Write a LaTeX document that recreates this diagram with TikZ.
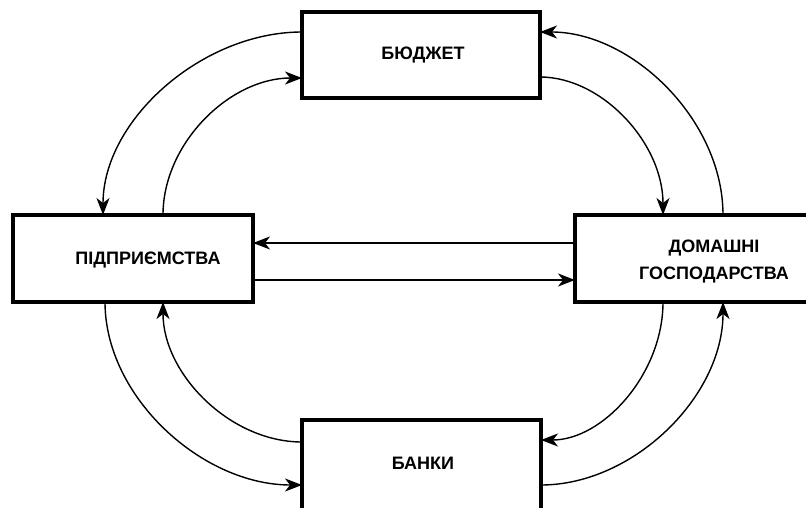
\documentclass[tikz,border=0pt]{standalone}
\usepackage{fontspec}
\setmainfont{Liberation Sans}
\usetikzlibrary{arrows.meta,calc}
\begin{document}
\begin{tikzpicture}[x=1pt,y=-1pt,
  box/.style={draw=black,line width=4pt,fill=white,inner sep=0pt,outer sep=0pt},
  lbl/.style={font=\fontsize{18}{27}\selectfont\bfseries,align=center,inner sep=0pt},
  flow/.style={line width=1.4pt,-{Stealth[length=17pt,width=13pt,inset=5pt]}}]
\useasboundingbox (0,0) rectangle (806,508);
\clip (0,0) rectangle (806,508);
\node[box,minimum width=238pt,minimum height=86pt] (bud) at (421,55) {};
\node[box,minimum width=240pt,minimum height=87pt] (pid) at (133,258.5) {};
\node[box,minimum width=240pt,minimum height=87pt] (dom) at (695,258.5) {};
\node[box,minimum width=239pt,minimum height=90pt] (ban) at (421.5,465) {};
\node[lbl] (budt) at (423,55) {БЮДЖЕТ};
\node[lbl] (pidt) at (148,260) {ПІДПРИЄМСТВА};
\node[lbl] (domt) at (714,262) {ДОМАШНІ\\ГОСПОДАРСТВА};
\node[lbl] (bant) at (423,463) {БАНКИ};
% attachment points
\coordinate (bw1) at ($(bud.west)+(0,-23)$);
\coordinate (bw2) at ($(bud.west)+(0,23)$);
\coordinate (be1) at ($(bud.east)+(0,-23)$);
\coordinate (be2) at ($(bud.east)+(0,22)$);
\coordinate (pn1) at ($(pid.north)+(-30,0)$);
\coordinate (pn2) at ($(pid.north)+(30,0)$);
\coordinate (ps1) at ($(pid.south)+(-28,0)$);
\coordinate (ps2) at ($(pid.south)+(30,0)$);
\coordinate (pe1) at ($(pid.east)+(0,-15.5)$);
\coordinate (pe2) at ($(pid.east)+(0,21.5)$);
\coordinate (dw1) at ($(dom.west)+(0,-15.5)$);
\coordinate (dw2) at ($(dom.west)+(0,21.5)$);
\coordinate (dn1) at ($(dom.north)+(-32,0)$);
\coordinate (dn2) at ($(dom.north)+(28,0)$);
\coordinate (ds1) at ($(dom.south)+(-32,0)$);
\coordinate (ds2) at ($(dom.south)+(28,0)$);
\coordinate (aw1) at ($(ban.west)+(0,-23)$);
\coordinate (aw2) at ($(ban.west)+(0,20)$);
\coordinate (ae1) at ($(ban.east)+(0,-25)$);
\coordinate (ae2) at ($(ban.east)+(0,20)$);
% budget <-> enterprises
\draw[flow] (bw1) .. controls +(-100,0) and +(0,-95) .. (pn1);
\draw[flow] (pn2) .. controls +(0,-72) and +(-72,0) .. (bw2);
% budget <-> households
\draw[flow] (dn2) .. controls +(0,-95) and +(92,0) .. (be1);
\draw[flow] (be2) .. controls +(62,0) and +(0,-72) .. (dn1);
% enterprises <-> households
\draw[flow] (dw1) -- (pe1);
\draw[flow] (pe2) -- (dw2);
% enterprises <-> banks
\draw[flow] (ps1) .. controls +(0,95) and +(-100,0) .. (aw2);
\draw[flow] (aw1) .. controls +(-72,0) and +(0,72) .. (ps2);
% households <-> banks
\draw[flow] (ds1) .. controls +(0,72) and +(62,0) .. (ae1);
\draw[flow] (ae2) .. controls +(92,0) and +(0,95) .. (ds2);
\end{tikzpicture}
\end{document}
